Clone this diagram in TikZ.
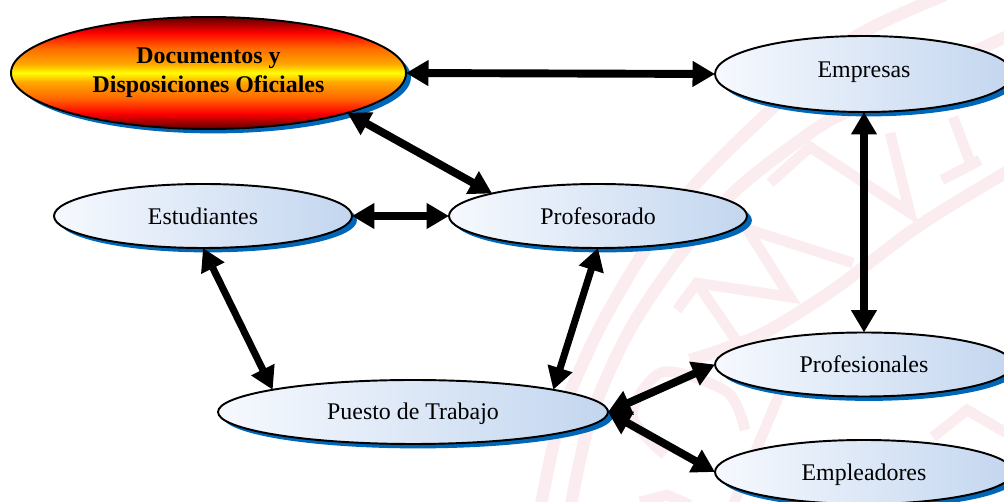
\documentclass[tikz,border=0pt]{standalone}
\usepackage{fontspec}
\setmainfont{Liberation Serif}
\usetikzlibrary{shapes.geometric,arrows.meta,shadows}
\definecolor{shadowblue}{HTML}{0066B8}
\definecolor{lightL}{HTML}{F6F9FE}
\definecolor{lightR}{HTML}{C3D6EF}
\definecolor{dkred}{HTML}{5A0000}
\definecolor{sealpink}{HTML}{FBEDEF}
\definecolor{ambA}{HTML}{FF6A00}
\definecolor{ambB}{HTML}{FFA800}
\pgfdeclareverticalshading{docshade}{100bp}{
  color(0bp)=(dkred); color(25bp)=(dkred); color(32bp)=(red); color(39bp)=(ambA); color(46bp)=(ambB); color(50bp)=(yellow);
  color(54bp)=(ambB); color(61bp)=(ambA); color(68bp)=(red); color(75bp)=(dkred); color(100bp)=(dkred)}
\newcommand{\shifttext}[2]{\raisebox{#1}[\height][\depth]{#2}}
\tikzset{
  x=0.02cm,y=-0.02cm,
  oval/.style={ellipse,draw=black,line width=1.1pt,inner sep=0pt,outer sep=0pt,
    minimum width=298*0.02cm,minimum height=64*0.02cm,
    left color=lightL,right color=lightR,font=\fontsize{13.6}{16.4}\selectfont,align=center,
    drop shadow={shadow xshift=2.8pt,shadow yshift=-2.5pt,fill=shadowblue,opacity=1}},
  mainoval/.style={oval,shading=docshade,shading angle=0,font=\fontsize{13.6}{16.4}\selectfont\bfseries},
  link/.style={line width=4.5pt,{Triangle[length=12.8pt,width=14pt]}-{Triangle[length=12.8pt,width=14pt]}},
  thinlink/.style={link,line width=4pt},
  seal/.style={draw=sealpink,line width=6pt,line join=miter},
  sealband/.style={draw=sealpink,line width=7pt}
}
\begin{document}
\begin{tikzpicture}
\path[use as bounding box,clip] (0,0) rectangle (1004,502);
\fill[white] (0,0) rectangle (1004,502);
% watermark seal
\draw[sealband] plot[smooth] coordinates {(540,510) (560,420) (597,333) (645,250) (693,187) (760,120) (850,40) (945,-5)};
\draw[sealband] plot[smooth] coordinates {(570,510) (590,420) (628,333) (680,255) (733,193) (800,140) (850,110) (1010,35)};
\draw[sealband] plot[smooth] coordinates {(690,360) (760,335) (833,290) (920,225) (1010,170)};
\draw[seal] (677,310) -- (697,283) -- (790,297) -- (747,229) -- (853,263);
\draw[seal] (697,283) -- (770,390);
\draw[seal] (770,183) -- (810,147) -- (910,213) -- (890,133);
\draw[seal] (953,117) -- (972,167);
\draw[seal] (942,180) -- (980,160);
\draw[seal] plot[smooth] coordinates {(665,455) (632,415) (663,372) (727,392) (745,430)};
\draw[seal] (780,393) -- (733,505);
\draw[seal] (933,437) -- (967,410) -- (1010,435);
\draw[seal] (640,502) -- (667,495) -- (690,505);
% nodes
\node[mainoval,minimum width=395*0.02cm,minimum height=112*0.02cm] (doc) at (208.5,73) {Documentos y\\Disposiciones Oficiales};
\node[oval,minimum height=76*0.02cm] (emp) at (864,74) {\shifttext{1.1pt}{Empresas}};
\node[oval] (est) at (203,216) {Estudiantes};
\node[oval] (pro) at (598,216) {Profesorado};
\node[oval,minimum width=390*0.02cm] (pue) at (413,412) {\shifttext{-1.1pt}{Puesto de Trabajo}};
\node[oval] (prf) at (864,364.5) {Profesionales};
\node[oval] (epl) at (864,472) {\shifttext{-1.7pt}{Empleadores}};
% connectors
\draw[link] (doc.east) -- (emp.west);
\draw[link] (doc.-16) -- (pro.168.5);
\draw[link] (est.east) -- (pro.west);
\draw[link] (emp.south) -- (prf.north);
\draw[thinlink] (est.south) -- (pue.171.3);
\draw[thinlink] (pro.south) -- (pue.9.7);
\draw[link] (pue.east) -- (prf.west);
\draw[link] (pue.east) -- (epl.west);
\end{tikzpicture}
\end{document}
